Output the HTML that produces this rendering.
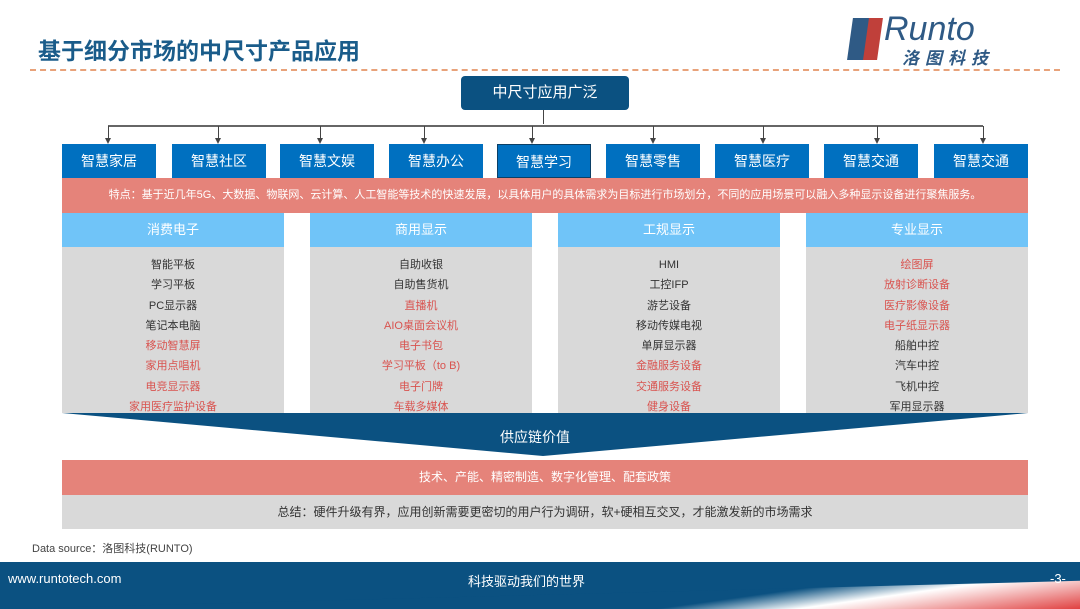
<!DOCTYPE html>
<html><head><meta charset="utf-8"><style>
*{margin:0;padding:0;box-sizing:border-box}
body{width:1080px;height:609px;position:relative;background:#fff;font-family:"Liberation Sans","Noto Sans CJK SC",sans-serif;overflow:hidden}
.a{position:absolute}
.b{position:absolute;top:144px;height:34px;width:94px;background:#0070c0;color:#fff;font-size:14px;text-align:center;line-height:34px}
.h{position:absolute;top:213px;height:34px;width:222px;background:#70c4f8;color:#fff;font-size:13px;text-align:center;line-height:34px}
.c{position:absolute;top:247px;height:166px;width:222px;background:#d9d9d9;text-align:center;font-size:11px;color:#333;padding-top:8px}
.c div{height:20.3px;line-height:20px}
.r{color:#d9534f}
.ar{position:absolute;top:126px;width:1px;height:16px;background:#444}
.ar:after{content:"";position:absolute;left:-3px;bottom:-2px;border-left:3.5px solid transparent;border-right:3.5px solid transparent;border-top:6px solid #444}
</style></head><body>
<div class="a" style="left:38px;top:32px;font-size:23px;color:#1a5c8a;font-weight:bold">基于细分市场的中尺寸产品应用</div>
<div class="a" style="left:30px;top:69px;width:1030px;border-top:2px dashed #e8a27a"></div>
<div class="a" style="left:850px;top:18px;width:22px;height:42px;background:#2f5a85;transform:skewX(-8deg)"></div>
<div class="a" style="left:866px;top:18px;width:14px;height:42px;background:#c0403a;transform:skewX(-8deg)"></div>
<div class="a" style="left:884px;top:10px;font-size:34px;color:#2f5a85;font-style:italic">Runto</div>
<div class="a" style="left:902px;top:44px;font-size:17px;color:#2f5a85;font-weight:bold;letter-spacing:6px;font-style:italic">洛图科技</div>
<div class="a" style="left:461px;top:76px;width:168px;height:34px;background:#0b5181;border-radius:4px;color:#fff;font-size:15px;text-align:center;line-height:34px">中尺寸应用广泛</div>
<div class="a" style="left:543px;top:110px;width:1px;height:14px;background:#444"></div>
<div class="a" style="left:108px;top:125px;width:875px;height:2px;background:#666"></div>
<div class="ar" style="left:108px"></div><div class="ar" style="left:218px"></div><div class="ar" style="left:320px"></div><div class="ar" style="left:424px"></div><div class="ar" style="left:532px"></div><div class="ar" style="left:653px"></div><div class="ar" style="left:763px"></div><div class="ar" style="left:877px"></div><div class="ar" style="left:983px"></div>
<div class="b" style="left:62px">智慧家居</div><div class="b" style="left:172px">智慧社区</div><div class="b" style="left:280px">智慧文娱</div><div class="b" style="left:389px">智慧办公</div><div class="b" style="left:497px;border:1px solid #0b3f66">智慧学习</div><div class="b" style="left:606px">智慧零售</div><div class="b" style="left:715px">智慧医疗</div><div class="b" style="left:824px">智慧交通</div><div class="b" style="left:934px">智慧交通</div>
<div class="a" style="left:62px;top:178px;width:966px;height:35px;background:#e5837a;color:#fff;font-size:11px;text-align:center;line-height:35px">特点：基于近几年5G、大数据、物联网、云计算、人工智能等技术的快速发展，以具体用户的具体需求为目标进行市场划分，不同的应用场景可以融入多种显示设备进行聚焦服务。</div>
<div class="h" style="left:62px">消费电子</div><div class="h" style="left:310px">商用显示</div><div class="h" style="left:558px">工规显示</div><div class="h" style="left:806px">专业显示</div>
<div class="c" style="left:62px"><div>智能平板</div><div>学习平板</div><div>PC显示器</div><div>笔记本电脑</div><div class="r">移动智慧屏</div><div class="r">家用点唱机</div><div class="r">电竞显示器</div><div class="r">家用医疗监护设备</div></div>
<div class="c" style="left:310px"><div>自助收银</div><div>自助售货机</div><div class="r">直播机</div><div class="r">AIO桌面会议机</div><div class="r">电子书包</div><div class="r">学习平板（to B)</div><div class="r">电子门牌</div><div class="r">车载多媒体</div></div>
<div class="c" style="left:558px"><div>HMI</div><div>工控IFP</div><div>游艺设备</div><div>移动传媒电视</div><div>单屏显示器</div><div class="r">金融服务设备</div><div class="r">交通服务设备</div><div class="r">健身设备</div></div>
<div class="c" style="left:806px"><div class="r">绘图屏</div><div class="r">放射诊断设备</div><div class="r">医疗影像设备</div><div class="r">电子纸显示器</div><div>船舶中控</div><div>汽车中控</div><div>飞机中控</div><div>军用显示器</div></div>
<svg class="a" style="left:0;top:0" width="1080" height="609"><polygon points="62,413 1028,413 543,456" fill="#0b5181"/></svg>
<div class="a" style="left:500px;top:427px;color:#fff;font-size:14px">供应链价值</div>
<div class="a" style="left:62px;top:460px;width:966px;height:35px;background:#e5837a;color:#fff;font-size:12px;text-align:center;line-height:35px">技术、产能、精密制造、数字化管理、配套政策</div>
<div class="a" style="left:62px;top:495px;width:966px;height:34px;background:#d9d9d9;color:#333;font-size:12px;text-align:center;line-height:34px">总结：硬件升级有界，应用创新需要更密切的用户行为调研，软+硬相互交叉，才能激发新的市场需求</div>
<div class="a" style="left:32px;top:540px;font-size:11px;color:#444">Data source：洛图科技(RUNTO)</div>
<div class="a" style="left:0;top:562px;width:1080px;height:47px;background:linear-gradient(172deg,#0b5181 0%,#0b5181 70%,#fff 80%,#e04040 100%)"></div>
<div class="a" style="left:0;top:562px;width:1080px;height:47px;background:#0b5181;clip-path:polygon(0 0,100% 0,100% 40%,0 100%)"></div>
<div class="a" style="left:8px;top:571px;color:#fff;font-size:13px">www.runtotech.com</div>
<div class="a" style="left:468px;top:571px;color:#fff;font-size:13px">科技驱动我们的世界</div>
<div class="a" style="left:1050px;top:571px;color:#fff;font-size:13px">-3-</div>
</body></html>
